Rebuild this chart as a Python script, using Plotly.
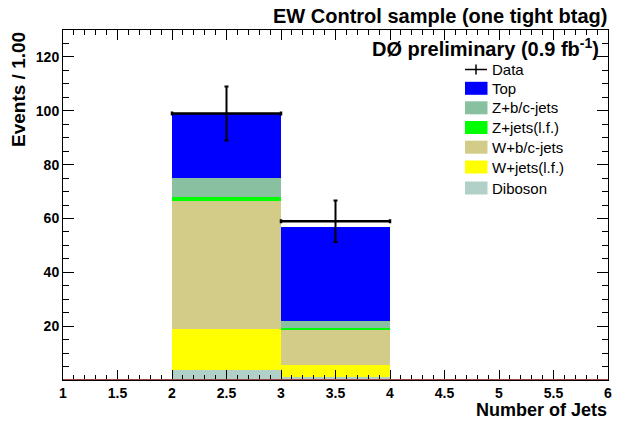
import plotly.graph_objects as go

# ---- data ----
bin_centers = [2.5, 3.5]
bin_width = [1.0, 1.0]
diboson = [3.9, 1.2]
w_lf = [14.9, 4.2]
w_bc = [47.7, 13.4]
z_lf = [1.5, 0.6]
z_bc = [7.2, 2.7]
top = [24.1, 34.7]
data_vals = [99, 59]
data_err = [10.0, 7.7]

x_tickvals = [1, 1.5, 2, 2.5, 3, 3.5, 4, 4.5, 5, 5.5, 6]
x_ticktext = ["1", "1.5", "2", "2.5", "3", "3.5", "4", "4.5", "5", "5.5", "6"]
y_tickvals = [20, 40, 60, 80, 100, 120]

series_names = ["Diboson", "W+jets(l.f.)", "W+b/c-jets", "Z+jets(l.f.)", "Z+b/c-jets", "Top"]
series_values = [diboson, w_lf, w_bc, z_lf, z_bc, top]
series_colors = ["#b0d0c8", "#ffff00", "#d2cc88", "#00ff00", "#88c0a0", "#0000ff"]

FONT = "Liberation Sans, Arial, Helvetica, sans-serif"

# plot frame spans pixels x 63..608, y 30..380
PX0, PX1, PY0, PY1 = 63.0, 608.0, 30.0, 380.0


def px(x):
    return (x - PX0) / (PX1 - PX0)


def py(y):
    return (PY1 - y) / (PY1 - PY0)


fig = go.Figure()
for name, vals, color in zip(series_names, series_values, series_colors):
    fig.add_trace(go.Bar(
        x=bin_centers, y=vals, width=bin_width, name=name,
        marker=dict(color=color, line=dict(width=0)),
    ))

fig.add_trace(go.Scatter(
    x=bin_centers, y=data_vals, mode="markers", name="Data",
    marker=dict(symbol="line-ew", size=2, color="black",
                line=dict(width=1, color="black")),
    error_x=dict(type="constant", value=0.5, thickness=2.5, width=2, color="black"),
    error_y=dict(type="data", array=data_err, thickness=2, width=2, color="black"),
))

# red baseline at zero
fig.add_shape(type="line", xref="x", yref="y", x0=1, x1=6, y0=0, y1=0,
              line=dict(color="#a04848", width=2), layer="above")

# ---- legend (drawn by hand, ROOT style) ----
legend_rows = [
    ("Data", None, 69.5),
    ("Top", "#0000ff", 88.3),
    ("Z+b/c-jets", "#88c0a0", 107.8),
    ("Z+jets(l.f.)", "#00ff00", 127.5),
    ("W+b/c-jets", "#d2cc88", 147.2),
    ("W+jets(l.f.)", "#ffff00", 167.0),
    ("Diboson", "#b0d0c8", 188.0),
]
for label, color, yc in legend_rows:
    if color is None:
        fig.add_shape(type="line", xref="paper", yref="paper",
                      x0=px(465), x1=px(487), y0=py(yc), y1=py(yc),
                      line=dict(color="black", width=1.5))
        fig.add_shape(type="line", xref="paper", yref="paper",
                      x0=px(476), x1=px(476), y0=py(yc - 5), y1=py(yc + 5),
                      line=dict(color="black", width=1.5))
    else:
        fig.add_shape(type="rect", xref="paper", yref="paper",
                      x0=px(465), x1=px(487.5), y0=py(yc + 6.5), y1=py(yc - 6.5),
                      fillcolor=color, line=dict(width=0))
    fig.add_annotation(text=label, xref="paper", yref="paper",
                       x=px(490), y=py(yc), xanchor="left", yanchor="middle",
                       showarrow=False,
                       font=dict(family=FONT, size=15, color="black"))

fig.add_annotation(text="<b>EW Control sample (one tight btag)</b>",
                   xref="paper", yref="paper", x=px(609), y=py(16),
                   xanchor="right", yanchor="middle", showarrow=False,
                   font=dict(family=FONT, size=20, color="black"))
fig.add_annotation(text="<b>DØ preliminary (0.9 fb<sup>-1</sup>)</b>",
                   xref="paper", yref="paper", x=px(601), y=py(48),
                   xanchor="right", yanchor="middle", showarrow=False,
                   font=dict(family=FONT, size=20, color="black"))
fig.add_annotation(text="<b>Number of Jets</b>",
                   xref="paper", yref="paper", x=px(609), y=py(410),
                   xanchor="right", yanchor="middle", showarrow=False,
                   font=dict(family=FONT, size=18, color="black"))
fig.add_annotation(text="<b>Events / 1.00</b>", textangle=-90,
                   xref="paper", yref="paper", x=px(19), y=py(90),
                   xanchor="center", yanchor="middle", showarrow=False,
                   font=dict(family=FONT, size=19, color="black"))

fig.update_layout(
    width=625, height=426,
    margin=dict(l=63, r=17, t=30, b=46),
    barmode="stack", bargap=0,
    plot_bgcolor="white", paper_bgcolor="white",
    font=dict(family=FONT, color="black"),
    showlegend=False,
)
fig.update_xaxes(
    range=[1, 6], tickvals=x_tickvals, ticktext=x_ticktext,
    ticks="inside", ticklen=10, tickwidth=1, tickcolor="black",
    showline=True, linecolor="black", linewidth=1, mirror="allticks",
    showgrid=False, zeroline=False,
    tickfont=dict(family=FONT, size=14, color="black", weight="bold"),
    minor=dict(dtick=0.1, ticks="inside", ticklen=5, tickcolor="black", showgrid=False),
)
fig.update_yaxes(
    range=[0, 130], tickvals=y_tickvals,
    ticks="inside", ticklen=11, tickwidth=1, tickcolor="black",
    showline=True, linecolor="black", linewidth=1, mirror="allticks",
    showgrid=False, zeroline=False,
    tickfont=dict(family=FONT, size=14, color="black", weight="bold"),
    minor=dict(dtick=5, ticks="inside", ticklen=6, tickcolor="black", showgrid=False),
)

# remove the browser's default 8px page margin so the figure fills the window
fig.write_html("out.html",
               config={"displayModeBar": False},
               post_script="document.body.style.margin='0px';document.body.style.overflow='hidden';")
